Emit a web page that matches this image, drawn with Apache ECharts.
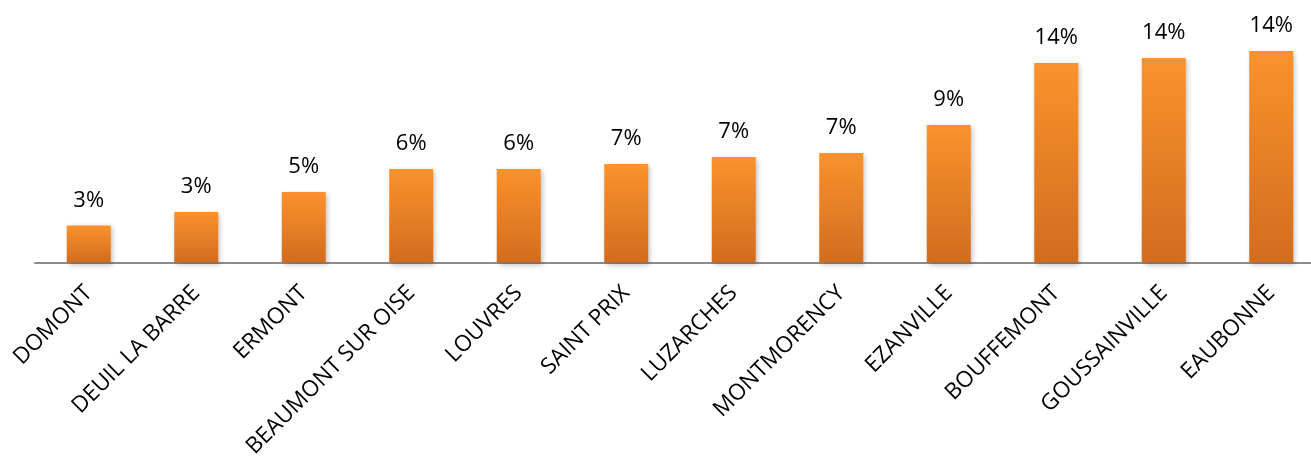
<!DOCTYPE html>
<html>
<head>
<meta charset="utf-8">
<script src="https://cdn.jsdelivr.net/npm/echarts@6/dist/echarts.min.js"></script>
<style>
  html, body { margin: 0; padding: 0; background: #ffffff; }
  #chart { width: 1311px; height: 461px; }
</style>
</head>
<body>
<div id="chart"></div>
<script>
// communes, triées par part croissante
const communes = ["DOMONT", "DEUIL LA BARRE", "ERMONT", "BEAUMONT SUR OISE", "LOUVRES", "SAINT PRIX",
  "LUZARCHES", "MONTMORENCY", "EZANVILLE", "BOUFFEMONT", "GOUSSAINVILLE", "EAUBONNE"];
// part en %
const parts = [2.52, 3.44, 4.8, 6.36, 6.36, 6.7, 7.18, 7.45, 9.35, 13.57, 13.91, 14.39];

const chart = echarts.init(document.getElementById("chart"));
chart.setOption({
  animation: false,
  grid: {
    left: 35,
    width: 1290,
    top: 27.3,
    bottom: 198.5,
    outerBoundsMode: "none",
  },
  xAxis: {
    type: "category",
    data: communes,
    axisTick: { show: false },
    axisLine: {
      show: true,
      lineStyle: { color: "#8c8c8c", width: 2 },
    },
    axisLabel: {
      interval: 0,
      rotate: 45,
      margin: 27,
      color: "#000000",
      fontFamily: "Open Sans",
      fontSize: 22.5,
    },
  },
  yAxis: {
    type: "value",
    min: 0,
    max: 16,
    show: false,
    splitLine: { show: false },
  },
  series: [{
    type: "bar",
    data: parts,
    barWidth: 44,
    itemStyle: {
      color: new echarts.graphic.LinearGradient(0, 0, 0, 1, [
        { offset: 0, color: "#fb922d" },
        { offset: 1, color: "#d26c1e" },
      ]),
      shadowColor: "rgba(0,0,0,0.25)",
      shadowBlur: 5,
      shadowOffsetX: 2,
      shadowOffsetY: 2,
    },
    label: {
      show: true,
      position: "top",
      distance: 14,
      color: "#000000",
      fontFamily: "Open Sans",
      fontSize: 22,
      formatter: (p) => Math.round(p.value) + "%",
    },
  }],
});
</script>
</body>
</html>
